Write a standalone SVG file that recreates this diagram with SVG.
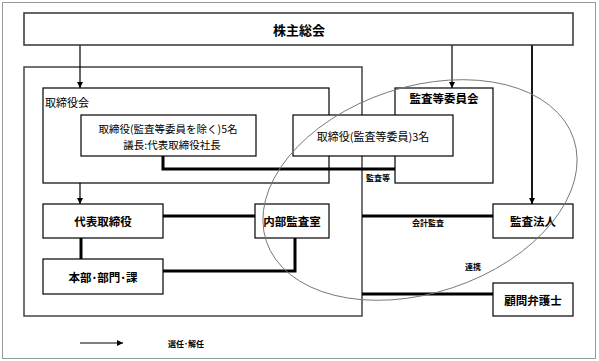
<svg xmlns="http://www.w3.org/2000/svg" width="599" height="361" viewBox="0 0 599 361">
<defs>
<marker id="ah" viewBox="0 0 6 6" refX="6" refY="3" markerWidth="6" markerHeight="6" markerUnits="userSpaceOnUse" orient="auto">
<path d="M0,0 L6,3 L0,6 z" fill="#000"/>
</marker>
<style>
.box{fill:#fff;stroke:#000;stroke-width:1.2}
.t{font-family:"Noto Sans CJK JP","Noto Sans CJK SC",sans-serif;fill:#000;text-anchor:middle;dominant-baseline:central}
.b{font-weight:bold;font-size:11.5px}
.r{font-size:11px}
.s{font-size:8px;font-weight:bold}
.arr{fill:none;stroke:#000;stroke-width:1.2;marker-end:url(#ah)}
.thick{fill:none;stroke:#000;stroke-width:3}
</style>
</defs>
<rect x="0" y="0" width="599" height="361" fill="#fff"/>
<rect x="2.5" y="2.5" width="593" height="356" fill="none" stroke="#999" stroke-width="1"/>

<g id="company">
<rect x="24" y="67" width="338" height="249" fill="none" stroke="#444" stroke-width="1.5"/>
</g>

<g id="torishimariyakukai">
<rect x="43" y="88" width="286" height="95" class="box" style="fill:none"/>
<text x="45" y="102" class="t r" style="text-anchor:start">取締役会</text>
</g>

<g id="kansatoiinkai">
<rect x="395" y="88" width="98" height="95" class="box" style="fill:none"/>
<text x="444" y="98" class="t b">監査等委員会</text>
</g>

<g id="connectors">
<line x1="80" y1="45" x2="80" y2="88" class="arr"/>
<line x1="452" y1="45" x2="452" y2="88" class="arr"/>
<line x1="532" y1="45" x2="532" y2="204" class="arr" style="stroke-width:1.8"/>
<line x1="80" y1="183" x2="80" y2="204" class="arr"/>
<polyline points="163,156 163,169 395,169" class="thick"/>
<line x1="81" y1="238" x2="81" y2="259" class="thick"/>
<line x1="163" y1="216" x2="255" y2="216" class="thick"/>
<polyline points="163,271 295,271 295,238" class="thick"/>
<line x1="362" y1="216" x2="493" y2="216" class="thick"/>
<line x1="362" y1="294" x2="493" y2="294" class="thick"/>
<line x1="80" y1="343" x2="123" y2="343" class="arr"/>
</g>

<g id="kabunushi">
<rect x="24" y="13" width="549" height="32" class="box" style="stroke:#333;stroke-width:1.5"/>
<text x="299" y="29" class="t b" style="font-size:13px">株主総会</text>
</g>

<g id="director5">
<rect x="81" y="115" width="175" height="41" class="box"/>
<text x="168" y="128.5" class="t" style="font-size:10.5px">取締役(監査等委員を除く)5名</text>
<text x="172" y="144" class="t" style="font-size:10.5px">議長:代表取締役社長</text>
</g>

<g id="director3">
<rect x="293" y="115" width="160" height="41" class="box"/>
<text x="373" y="136" class="t r">取締役(監査等委員)3名</text>
</g>

<g id="daihyo">
<rect x="43" y="204" width="120" height="34" class="box"/>
<text x="103" y="221" class="t b">代表取締役</text>
</g>

<g id="honbu">
<rect x="43" y="259" width="120" height="35" class="box"/>
<text x="103" y="277" class="t b">本部･部門･課</text>
</g>

<g id="naibu">
<rect x="255" y="204" width="74" height="34" class="box"/>
<text x="292" y="221" class="t b">内部監査室</text>
</g>

<g id="kansahojin">
<rect x="493" y="204" width="80" height="34" class="box"/>
<text x="533" y="221" class="t b">監査法人</text>
</g>

<g id="komon">
<rect x="493" y="283" width="80" height="33" class="box"/>
<text x="533" y="300" class="t b">顧問弁護士</text>
</g>

<g id="labels">
<text x="378" y="177" class="t s">監査等</text>
<text x="428" y="222" class="t s">会計監査</text>
<text x="473" y="266" class="t s">連携</text>
<text x="186" y="343" class="t s">選任･解任</text>
</g>

<g id="ellipse">
<ellipse cx="420" cy="190" rx="162" ry="103" transform="rotate(-18.4 420 190)" fill="none" stroke="#777" stroke-width="0.9"/>
</g>
</svg>
